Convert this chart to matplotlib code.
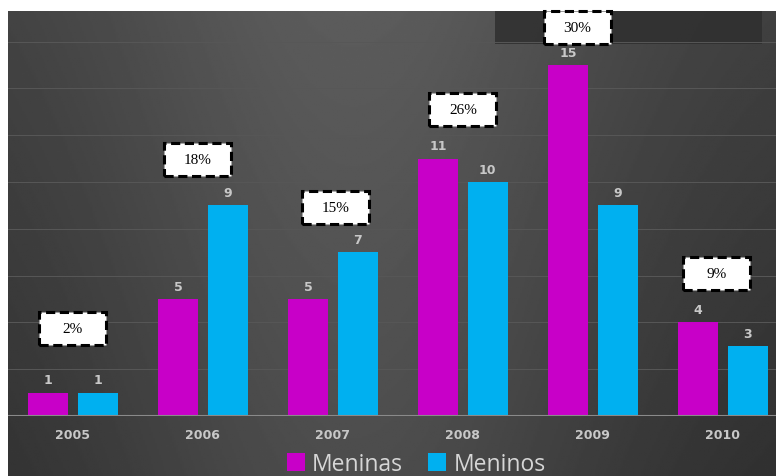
import numpy as np
import matplotlib
matplotlib.use("Agg")
import matplotlib.pyplot as plt
from matplotlib.patches import Rectangle, Patch

years = ["2005", "2006", "2007", "2008", "2009", "2010"]
meninas = [1, 5, 5, 11, 15, 4]
meninos = [1, 9, 7, 10, 9, 3]
pct_labels = ["2%", "18%", "15%", "26%", "30%", "9%"]
pct_x = [0.0, 0.96, 2.02, 3.0, 3.88, 4.95]
pct_y = [3.76, 10.98, 8.89, 13.08, 16.62, 6.07]

W, H = 776, 477
fig = plt.figure(figsize=(W / 100, H / 100), dpi=100)
fig.patch.set_facecolor("white")

# background gradient
bg = fig.add_axes([8 / W, 0, 768 / W, 465 / H])
xs = np.linspace(-1, 1, 400)
ys = np.linspace(-1, 1, 250)
X, Y = np.meshgrid(xs, ys)
val = 0.21 + 0.12 * np.exp(-((X + 0.1) ** 2) / 0.5) - 0.03 * Y
bg.imshow(val, cmap="gray", vmin=0, vmax=1, aspect="auto", extent=[0, 1, 0, 1])
bg.set_axis_off()
# darker band at top
bg.add_patch(Rectangle((487 / 768, 432 / 465), 267 / 768, 33 / 465,
                       facecolor="#2f2f2f", edgecolor="none", alpha=0.85,
                       transform=bg.transAxes))

ax = fig.add_axes([8 / W, (H - 417) / H, 768 / W, (417 - 12) / H])
ax.set_facecolor("none")
ax.set_xlim(-0.5, 5.41)
ax.set_ylim(0, 405 / 23.4)

x = np.arange(len(years))
bw = 0.308
off = 0.192
c_mag = "#C800C8"
c_cyan = "#00B0F0"
b1 = ax.bar(x - off, meninas, bw, color=c_mag, zorder=3)
b2 = ax.bar(x + off, meninos, bw, color=c_cyan, zorder=3)

for rects, vals in ((b1, meninas), (b2, meninos)):
    for r, v in zip(rects, vals):
        ax.annotate(str(v), (r.get_x() + r.get_width() / 2, v),
                    xytext=(0, 4.5), textcoords="offset points",
                    ha="center", va="bottom", color="#c8c8c8",
                    fontsize=9, fontweight="bold", family="DejaVu Sans")

for gy in np.arange(2, 18, 2):
    ax.axhline(gy, color="#575757", lw=0.7, zorder=1)
ax.axhline(0, color="#8a8a8a", lw=1.5, zorder=4)

for s in ax.spines.values():
    s.set_visible(False)
ax.set_yticks([])
ax.set_xticks(x)
ax.set_xticklabels(years, color="#c8c8c8", fontsize=9, fontweight="bold")
ax.tick_params(axis="x", length=0, pad=9)

bwid = 67 / 130
bhei = 33 / 23.4
for lab, px, py in zip(pct_labels, pct_x, pct_y):
    ax.add_patch(Rectangle((px - bwid / 2, py - bhei / 2), bwid, bhei,
                           facecolor="white", edgecolor="black", lw=2.2,
                           linestyle=(0, (3, 1.5)), zorder=5, clip_on=False))
    ax.text(px, py, lab, ha="center", va="center", fontsize=11,
            family="Liberation Serif", color="black", zorder=6)

handles = [Patch(facecolor=c_mag, label="Meninas"),
           Patch(facecolor=c_cyan, label="Meninos")]
fig.legend(handles=handles, loc="center", bbox_to_anchor=(416 / W, 1 - 465 / H),
           ncol=2, frameon=False, prop={"family": "Open Sans", "size": 16.5},
           labelcolor="#d6d6d6", handlelength=0.8, handleheight=0.8,
           handletextpad=0.3, columnspacing=1.1, borderpad=0)

fig.savefig("out.png", dpi=100)
